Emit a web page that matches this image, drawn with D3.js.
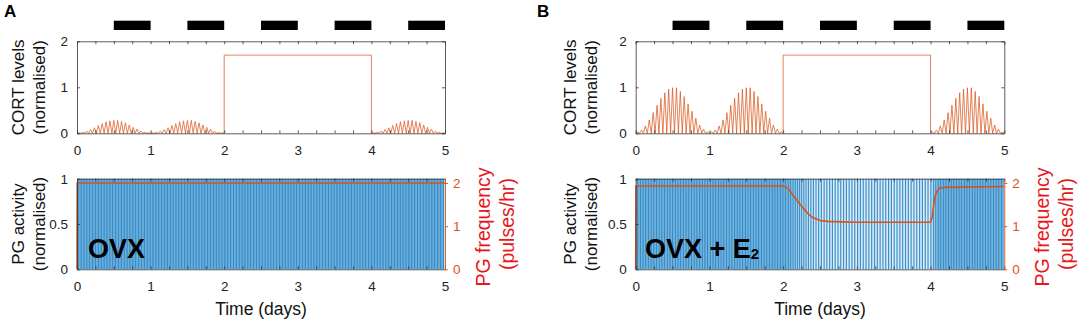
<!DOCTYPE html>
<html><head><meta charset="utf-8">
<script src="https://cdn.jsdelivr.net/npm/d3@7"></script>
<style>body{margin:0;background:#fff}svg{display:block;font-family:"Liberation Sans",Arial,sans-serif}</style>
</head><body><svg id="c" width="1084" height="324"></svg>
<script>
// ---------------- data ----------------
const dayLabels = [0, 1, 2, 3, 4, 5];
const dayTicks = [0, 0.25, 0.5, 0.75, 1, 1.25, 1.5, 1.75, 2, 2.25, 2.5, 2.75, 3, 3.25, 3.5, 3.75, 4, 4.25, 4.5, 4.75, 5];
const nightStart = [0.5, 1.5, 2.5, 3.5, 4.5];
const nightEnd = [1, 2, 3, 4, 5];
const cortSchedule = ["pulsatile", "pulsatile", "constant", "constant", "pulsatile"];
const cortConstantLevel = 1.7;
// ultradian CORT peak heights within one day
const cortPeaksA = [0.01, 0.02, 0.05, 0.08, 0.12, 0.17, 0.21, 0.25, 0.27, 0.28, 0.28, 0.26, 0.23, 0.18, 0.13, 0.09, 0.05, 0.02, 0.01];
const cortPeaksB = [0.03, 0.07, 0.16, 0.29, 0.45, 0.61, 0.76, 0.88, 0.96, 0.99, 0.99, 0.91, 0.80, 0.64, 0.48, 0.33, 0.18, 0.09, 0.03];
// PG pulse frequency (pulses/hr)
const freqTimesA = [0, 0.003, 5];
const freqA = [0, 2.0, 2.0];
const freqTimesB = [0, 0.003, 1, 2.0, 2.05, 2.1, 2.15, 2.2, 2.25, 2.3, 2.35, 2.4, 2.5, 2.6, 2.8, 3.0, 4.0, 4.02, 4.04, 4.06, 4.09, 4.12, 4.2, 5];
const freqB = [0, 1.93, 1.93, 1.93, 1.90, 1.80, 1.68, 1.57, 1.46, 1.36, 1.27, 1.20, 1.13, 1.11, 1.10, 1.09, 1.09, 1.2, 1.45, 1.68, 1.82, 1.88, 1.90, 1.92];
const cortTicks = [0, 1, 2];
const pgTicks = [0, 0.5, 1];
const freqTicks = [0, 1, 2];

// ---------------- layout ----------------
const panels = [
  {letter: "A", lx: 4, x0: 77, x1: 445, peaks: cortPeaksA, ft: freqTimesA, f: freqA, tag: "OVX", tagX: 88, ylab: [24, 44.5]},
  {letter: "B", lx: 537, x0: 635.7, x1: 1004.3, peaks: cortPeaksB, ft: freqTimesB, f: freqB, tag: "OVX + E", tagX: 645, ylab: [576, 596.5]}
];
const topY = [41.3, 133.3], botY = [178.7, 269.3];
const axisCol = "#333", orange = "#D95319", blue = "#0072BD";
const numFmt = d => String(d);

const svg = d3.select("#c");

panels.forEach(P => {
  const g = svg.append("g");
  const x = d3.scaleLinear().domain([0, 5]).range([P.x0, P.x1]);
  const yC = d3.scaleLinear().domain([0, 2]).range([topY[1], topY[0]]);
  const yP = d3.scaleLinear().domain([0, 1]).range([botY[1], botY[0]]);
  const yF = d3.scaleLinear().domain([0, 2.1]).range([botY[1], botY[0]]);

  g.append("text").attr("x", P.lx).attr("y", 17).attr("font-size", 17).attr("font-weight", "bold").text(P.letter);

  // night bars
  g.selectAll("rect.night").data(nightStart).join("rect")
    .attr("x", d => x(d)).attr("width", (d, i) => x(nightEnd[i]) - x(d))
    .attr("y", 20.7).attr("height", 9.3).attr("fill", "#000");

  // CORT line
  const pts = [];
  cortSchedule.forEach((mode, d) => {
    if (mode === "pulsatile") {
      const n = P.peaks.length, s = 1 / n;
      pts.push([d, 0]);
      P.peaks.forEach((p, i) => { pts.push([d + (i + 0.5) * s, p]); pts.push([d + (i + 1) * s, 0]); });
    } else {
      pts.push([d, cortConstantLevel]); pts.push([d + 1, cortConstantLevel]);
    }
  });
  g.append("path").attr("d", d3.line().x(d => x(d[0])).y(d => yC(d[1]))(pts))
    .attr("fill", "none").attr("stroke", orange).attr("stroke-width", 0.9).attr("stroke-opacity", 0.8);

  // top axes frame
  const fmt = d => Number.isInteger(d) ? String(d) : "";
  const styleAx = sel => { sel.selectAll("path,line").attr("stroke", axisCol).attr("stroke-width", 0.8); sel.selectAll("text").attr("fill", "#222").attr("font-size", 13.5).attr("font-family", "Liberation Sans, Arial, sans-serif"); };
  g.append("g").attr("transform", `translate(0,${topY[1]})`).call(d3.axisBottom(x).tickValues(dayTicks).tickFormat(fmt).tickSize(-3).tickSizeOuter(0).tickPadding(12)).call(styleAx);
  g.append("g").attr("transform", `translate(0,${topY[0]})`).call(d3.axisTop(x).tickValues(dayTicks).tickFormat("").tickSize(-3).tickSizeOuter(0)).call(styleAx);
  g.append("g").attr("transform", `translate(${P.x0},0)`).call(d3.axisLeft(yC).tickValues(cortTicks).tickFormat(numFmt).tickSize(-3).tickSizeOuter(0).tickPadding(9)).call(styleAx);
  g.append("g").attr("transform", `translate(${P.x1},0)`).call(d3.axisRight(yC).tickValues(cortTicks).tickFormat("").tickSize(-3).tickSizeOuter(0)).call(styleAx);

  // PG pulses derived from the frequency series
  const fAt = d3.scaleLinear().domain(P.ft).range(P.f).clamp(true);
  const pulses = [];
  let phase = 0; const dt = 0.0005;
  for (let t = 0; t < 5; t += dt) {
    const np = phase + fAt(t) * dt * 24;
    if (Math.floor(np) > Math.floor(phase)) pulses.push(t);
    phase = np;
  }
  // soft halo of each pulse, then its core
  g.selectAll("line.halo").data(pulses).join("line").attr("class", "halo")
    .attr("x1", d => x(d)).attr("x2", d => x(d)).attr("y1", yP(0)).attr("y2", yP(1))
    .attr("stroke", blue).attr("stroke-width", 3).attr("stroke-opacity", 0.12);
  g.selectAll("line.pulse").data(pulses).join("line").attr("class", "pulse")
    .attr("x1", d => x(d)).attr("x2", d => x(d)).attr("y1", yP(0)).attr("y2", yP(1))
    .attr("stroke", blue).attr("stroke-width", 1.2).attr("stroke-opacity", 0.75);

  // frequency line
  g.append("path").attr("d", d3.line().x((d, i) => x(P.ft[i])).y(d => yF(d))(P.f))
    .attr("fill", "none").attr("stroke", orange).attr("stroke-width", 1.6);

  // bottom axes
  g.append("g").attr("transform", `translate(0,${botY[1]})`).call(d3.axisBottom(x).tickValues(dayTicks).tickFormat(fmt).tickSize(-3).tickSizeOuter(0).tickPadding(12)).call(styleAx);
  g.append("g").attr("transform", `translate(0,${botY[0]})`).call(d3.axisTop(x).tickValues(dayTicks).tickFormat("").tickSize(-3).tickSizeOuter(0)).call(styleAx);
  g.append("g").attr("transform", `translate(${P.x0},0)`).call(d3.axisLeft(yP).tickValues(pgTicks).tickFormat(numFmt).tickSize(-3).tickSizeOuter(0).tickPadding(9)).call(styleAx);
  const ra = g.append("g").attr("transform", `translate(${P.x1},0)`).call(d3.axisRight(yF).tickValues(freqTicks).tickFormat(numFmt).tickSize(3).tickSizeOuter(0).tickPadding(5));
  ra.selectAll("path,line").attr("stroke", orange).attr("stroke-width", 0.9);
  ra.selectAll("text").attr("fill", orange).attr("font-size", 13.5).attr("font-family", "Liberation Sans, Arial, sans-serif");

  // tag
  const tg = g.append("text").attr("x", P.tagX).attr("y", 258).attr("font-size", 27).attr("font-weight", "bold").attr("fill", "#000").text(P.tag);
  if (P.letter === "B") tg.append("tspan").attr("font-size", 15).attr("dy", 1).text("2");

  // axis labels
  const cx = (P.x0 + P.x1) / 2;
  g.append("text").attr("x", cx).attr("y", 315).attr("text-anchor", "middle").attr("font-size", 17.5).attr("fill", "#111").text("Time (days)");
  const vlab = (xx, yy, txt, size, col) => g.append("text").attr("transform", `translate(${xx},${yy}) rotate(-90)`).attr("text-anchor", "middle").attr("font-size", size).attr("fill", col).text(txt);
  vlab(P.ylab[0], (topY[0] + topY[1]) / 2, "CORT levels", 17, "#111");
  vlab(P.ylab[1], (topY[0] + topY[1]) / 2, "(normalised)", 17, "#111");
  vlab(P.ylab[0], (botY[0] + botY[1]) / 2, "PG activity", 17, "#111");
  vlab(P.ylab[1], (botY[0] + botY[1]) / 2, "(normalised)", 17, "#111");
  vlab(P.x1 + 45, (botY[0] + botY[1]) / 2 + 3, "PG frequency", 19.5, "#E8161B");
  vlab(P.x1 + 69, (botY[0] + botY[1]) / 2, "(pulses/hr)", 19.5, "#E8161B");
});
</script></body></html>
